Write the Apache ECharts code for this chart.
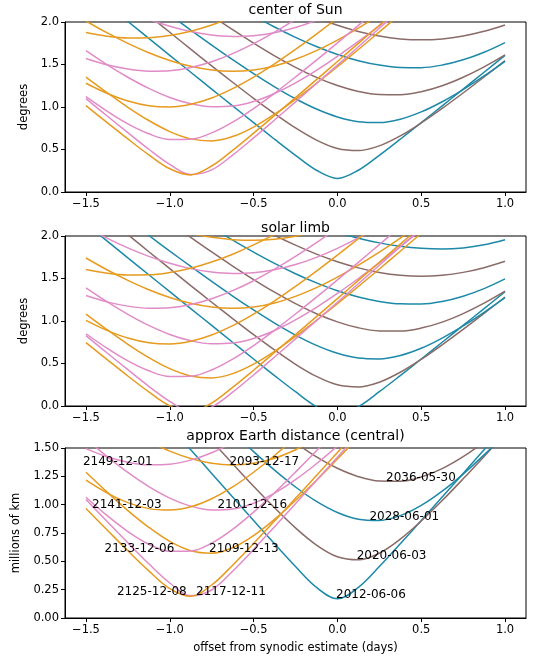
<!DOCTYPE html>
<html>
<head>
<meta charset="utf-8">
<script src="https://cdn.jsdelivr.net/npm/echarts@6/dist/echarts.min.js"></script>
<style>html,body{margin:0;padding:0;background:#fff}#c{width:540px;height:663px}</style>
</head>
<body>
<div id="c"></div>
<script>
// shared x grid (days offset from synodic estimate)
const xDays = [-1.5,-1.375,-1.25,-1.125,-1.0,-0.875,-0.75,-0.625,-0.5,-0.375,-0.25,-0.125,0,0.125,0.25,0.375,0.5,0.625,0.75,0.875,1.0];

// ---- center of Sun (degrees) ----
const sun_2012 = [2.405,2.206,2.006,1.807,1.608,1.409,1.211,1.013,0.816,0.621,0.431,0.256,0.16,0.256,0.431,0.621,0.816,1.013,1.211,1.409,1.608];
const sun_2020 = [2.684,2.481,2.280,2.078,1.879,1.680,1.484,1.291,1.102,0.922,0.754,0.611,0.512,0.487,0.543,0.660,0.812,0.983,1.165,1.353,1.545];
const sun_2028 = [null,null,2.454,2.269,2.086,1.905,1.729,1.557,1.393,1.238,1.097,0.976,0.883,0.827,0.817,0.857,0.942,1.062,1.205,1.365,1.537];
const sun_2036 = [null,null,null,null,2.423,2.247,2.075,1.909,1.751,1.602,1.467,1.349,1.253,1.183,1.146,1.144,1.180,1.250,1.350,1.473,1.614];
const sun_2044 = [null,null,null,null,null,null,2.364,2.215,2.074,1.941,1.819,1.711,1.618,1.545,1.493,1.465,1.463,1.493,1.555,1.644,1.758];
const sun_2052 = [null,null,null,null,null,null,null,null,2.401,2.272,2.155,2.050,1.961,1.888,1.834,1.801,1.790,1.801,1.835,1.890,1.965];
const sun_2085 = [2.374,2.246,2.131,2.031,1.950,1.887,1.847,1.830,1.839,1.874,1.935,2.020,2.125,2.248,2.385,null,null,null,null,null,null];
const sun_2093 = [2.012,1.874,1.749,1.639,1.548,1.479,1.435,1.420,1.435,1.483,1.561,1.663,1.787,1.928,2.082,2.247,2.420,null,null,null,null];
const sun_2101 = [1.662,1.499,1.350,1.219,1.112,1.038,1.002,1.011,1.065,1.159,1.284,1.431,1.595,1.771,1.955,2.146,2.342,2.541,null,null,null];
const sun_2109 = [1.352,1.170,0.997,0.841,0.711,0.625,0.601,0.652,0.764,0.915,1.090,1.278,1.475,1.677,1.883,2.092,2.302,2.514,null,null,null];
const sun_2117 = [1.099,0.897,0.698,0.503,0.325,0.206,0.260,0.434,0.636,0.847,1.060,1.276,1.492,1.709,1.927,2.144,2.362,null,null,null,null];
const sun_2125 = [1.016,0.819,0.624,0.437,0.273,0.201,0.306,0.490,0.692,0.900,1.110,1.322,1.535,1.749,1.962,2.176,2.390,null,null,null,null];
const sun_2133 = [1.121,0.952,0.802,0.685,0.618,0.621,0.695,0.822,0.982,1.162,1.353,1.551,1.754,1.961,2.170,2.381,null,null,null,null,null];
const sun_2141 = [1.279,1.161,1.070,1.015,1.001,1.032,1.106,1.216,1.352,1.508,1.678,1.858,2.046,2.239,2.437,null,null,null,null,null,null];
const sun_2149 = [1.571,1.496,1.446,1.422,1.427,1.465,1.533,1.628,1.745,1.881,2.031,2.193,2.364,null,null,null,null,null,null,null,null];
const sun_2157 = [1.876,1.833,1.812,1.814,1.842,1.892,1.965,2.057,2.166,2.290,2.426,null,null,null,null,null,null,null,null,null,null];

// ---- solar limb (degrees) ----
const limb_2012 = [2.142,1.943,1.743,1.544,1.345,1.146,0.948,0.750,0.553,0.358,0.168,-0.007,-0.103,-0.007,0.168,0.358,0.553,0.750,0.948,1.146,1.345];
const limb_2020 = [2.421,2.218,2.017,1.815,1.616,1.417,1.221,1.028,0.839,0.659,0.491,0.348,0.249,0.224,0.280,0.397,0.549,0.720,0.902,1.090,1.282];
const limb_2028 = [null,null,2.191,2.006,1.823,1.642,1.466,1.294,1.130,0.975,0.834,0.713,0.620,0.564,0.554,0.594,0.679,0.799,0.942,1.102,1.274];
const limb_2036 = [null,null,null,null,2.160,1.984,1.812,1.646,1.488,1.339,1.204,1.086,0.990,0.920,0.883,0.881,0.917,0.987,1.087,1.210,1.351];
const limb_2044 = [null,null,null,null,null,null,2.101,1.952,1.811,1.678,1.556,1.448,1.355,1.282,1.230,1.202,1.200,1.230,1.292,1.381,1.495];
const limb_2052 = [null,null,null,null,null,null,null,null,2.138,2.009,1.892,1.787,1.698,1.625,1.571,1.538,1.527,1.538,1.572,1.627,1.702];
const limb_2060 = [null,null,null,null,null,null,null,null,null,null,null,null,2.043,1.974,1.919,1.879,1.855,1.847,1.860,1.896,1.955];
const limb_2077 = [null,null,null,null,null,2.029,1.984,1.957,1.949,1.962,1.998,2.055,null,null,null,null,null,null,null,null,null];
const limb_2085 = [2.103,1.975,1.860,1.760,1.679,1.616,1.576,1.559,1.568,1.603,1.664,1.749,1.854,1.977,2.114,null,null,null,null,null,null];
const limb_2093 = [1.741,1.603,1.478,1.368,1.277,1.208,1.164,1.149,1.164,1.212,1.290,1.392,1.516,1.657,1.811,1.976,2.149,null,null,null,null];
const limb_2101 = [1.391,1.228,1.079,0.948,0.841,0.767,0.731,0.740,0.794,0.888,1.013,1.160,1.324,1.500,1.684,1.875,2.071,2.270,null,null,null];
const limb_2109 = [1.081,0.899,0.726,0.570,0.440,0.354,0.330,0.381,0.493,0.644,0.819,1.007,1.204,1.406,1.612,1.821,2.031,2.243,null,null,null];
const limb_2117 = [0.828,0.626,0.427,0.232,0.054,-0.065,-0.011,0.163,0.365,0.576,0.789,1.005,1.221,1.438,1.656,1.873,2.091,null,null,null,null];
const limb_2125 = [0.745,0.548,0.353,0.166,0.002,-0.070,0.035,0.219,0.421,0.629,0.839,1.051,1.264,1.478,1.691,1.905,2.119,null,null,null,null];
const limb_2133 = [0.850,0.681,0.531,0.414,0.347,0.350,0.424,0.551,0.711,0.891,1.082,1.280,1.483,1.690,1.899,2.110,null,null,null,null,null];
const limb_2141 = [1.008,0.890,0.799,0.744,0.730,0.761,0.835,0.945,1.081,1.237,1.407,1.587,1.775,1.968,2.166,null,null,null,null,null,null];
const limb_2149 = [1.300,1.225,1.175,1.151,1.156,1.194,1.262,1.357,1.474,1.610,1.760,1.922,2.093,null,null,null,null,null,null,null,null];
const limb_2157 = [1.605,1.562,1.541,1.543,1.571,1.621,1.694,1.786,1.895,2.019,2.155,null,null,null,null,null,null,null,null,null,null];

// ---- approx Earth distance (millions of km) ----
const dist_2012 = [2.535,2.325,2.114,1.905,1.695,1.485,1.276,1.068,0.860,0.655,0.454,0.270,0.169,0.270,0.454,0.655,0.860,1.068,1.276,1.485,1.695];
const dist_2020 = [2.829,2.615,2.403,2.190,1.980,1.771,1.564,1.361,1.162,0.972,0.795,0.644,0.540,0.513,0.572,0.696,0.856,1.036,1.228,1.426,1.628];
const dist_2028 = [null,null,2.587,2.392,2.199,2.008,1.822,1.641,1.468,1.305,1.156,1.029,0.931,0.872,0.861,0.903,0.993,1.119,1.270,1.439,1.620];
const dist_2036 = [null,null,null,null,2.554,2.368,2.187,2.012,1.846,1.689,1.546,1.422,1.321,1.247,1.208,1.206,1.244,1.318,1.423,1.553,1.701];
const dist_2093 = [1.913,1.782,1.663,1.559,1.472,1.407,1.365,1.350,1.365,1.410,1.485,1.582,1.699,1.834,1.980,2.137,2.301,null,null,null,null];
const dist_2101 = [1.581,1.426,1.284,1.159,1.058,0.987,0.953,0.962,1.013,1.102,1.221,1.361,1.517,1.684,1.859,2.041,2.227,2.417,null,null,null];
const dist_2109 = [1.286,1.113,0.948,0.800,0.676,0.594,0.572,0.620,0.727,0.870,1.037,1.215,1.403,1.595,1.791,1.990,2.189,2.391,null,null,null];
const dist_2117 = [1.045,0.853,0.664,0.478,0.309,0.196,0.247,0.413,0.605,0.806,1.008,1.214,1.419,1.625,1.833,2.039,2.246,null,null,null,null];
const dist_2125 = [0.966,0.779,0.593,0.416,0.260,0.191,0.291,0.466,0.658,0.856,1.056,1.257,1.460,1.663,1.866,2.069,2.273,null,null,null,null];
const dist_2133 = [1.066,0.905,0.763,0.651,0.588,0.591,0.661,0.782,0.934,1.105,1.287,1.475,1.668,1.865,2.064,2.264,null,null,null,null,null];
const dist_2141 = [1.216,1.104,1.018,0.965,0.952,0.981,1.052,1.156,1.286,1.434,1.596,1.767,1.946,2.129,2.318,null,null,null,null,null,null];
const dist_2149 = [1.494,1.423,1.375,1.352,1.357,1.393,1.458,1.548,1.660,1.789,1.932,2.086,2.248,null,null,null,null,null,null,null,null];

// ---- date labels in the distance panel ----
const labelText  = ['2149-12-01','2093-12-17','2141-12-03','2101-12-16','2133-12-06','2109-12-13','2125-12-08','2117-12-11','2036-05-30','2028-06-01','2020-06-03','2012-06-06'];
const labelX     = [-1.099,-0.641,-1.045,-0.713,-0.970,-0.763,-0.896,-0.840,0.293,0.194,0.118,-0.005];
const labelY     = [1.377,1.377,0.994,0.994,0.609,0.609,0.229,0.229,1.236,0.888,0.544,0.199];
const labelAlign = ['right','left','right','left','right','left','right','left','left','left','left','left'];

// tick labels
const xTicks = [-1.5,-1.0,-0.5,0,0.5,1.0];
const titles = ['center of Sun','solar limb','approx Earth distance (central)'];

const TEAL='#1d89a8', BROWN='#8a6b68', ORANGE='#e69b1f', PINK='#e18bc7';
const FONT='DejaVu Sans';

const panel0 = [[sun_2012,TEAL],[sun_2020,BROWN],[sun_2028,TEAL],[sun_2036,BROWN],[sun_2044,TEAL],[sun_2052,BROWN],
  [sun_2085,PINK],[sun_2093,ORANGE],[sun_2101,PINK],[sun_2109,ORANGE],[sun_2117,PINK],[sun_2125,ORANGE],[sun_2133,PINK],[sun_2141,ORANGE],[sun_2149,PINK],[sun_2157,ORANGE]];
const panel1 = [[limb_2012,TEAL],[limb_2020,BROWN],[limb_2028,TEAL],[limb_2036,BROWN],[limb_2044,TEAL],[limb_2052,BROWN],[limb_2060,TEAL],
  [limb_2077,ORANGE],[limb_2085,PINK],[limb_2093,ORANGE],[limb_2101,PINK],[limb_2109,ORANGE],[limb_2117,PINK],[limb_2125,ORANGE],[limb_2133,PINK],[limb_2141,ORANGE],[limb_2149,PINK],[limb_2157,ORANGE]];
const panel2 = [[dist_2012,TEAL],[dist_2020,BROWN],[dist_2028,TEAL],[dist_2036,BROWN],
  [dist_2093,ORANGE],[dist_2101,PINK],[dist_2109,ORANGE],[dist_2117,PINK],[dist_2125,ORANGE],[dist_2133,PINK],[dist_2141,ORANGE],[dist_2149,PINK]];

function fmtX(v){ return (v<0?'\u2212':'') + Math.abs(v).toFixed(1); }

const series = [];
[panel0,panel1,panel2].forEach((panel,gi)=>{
  panel.forEach(([arr,color])=>{
    series.push({
      type:'line', xAxisIndex:gi, yAxisIndex:gi, silent:true,
      data: xDays.map((x,i)=>[x, arr[i]]),
      symbol:'none', showSymbol:false, smooth:0.35, clip:true,
      lineStyle:{color, width:1.5}, itemStyle:{color}
    });
  });
});
series.push({
  type:'scatter', xAxisIndex:2, yAxisIndex:2, silent:true, z:10,
  symbolSize:1, itemStyle:{color:'rgba(0,0,0,0)'},
  data: labelText.map((t,i)=>({name:t, value:[labelX[i], labelY[i]], label:{align:labelAlign[i]}})),
  label:{show:true, position:[0,0], verticalAlign:'middle', formatter:p=>p.name,
         color:'#000', opacity:1, fontFamily:FONT, fontSize:12}
});

const gridTops=[22,236,448];
const grids = gridTops.map(t=>({left:65,right:14,top:t,height:170,show:true,borderColor:'#000',borderWidth:1,backgroundColor:'#fff'}));

const xAxes = gridTops.map((t,i)=>({
  type:'value', gridIndex:i, min:-1.625, max:1.125,
  axisLine:{show:true, onZero:false, lineStyle:{color:'#000', width:1}},
  axisTick:{show:true, customValues:xTicks, length:4, lineStyle:{color:'#000'}},
  axisLabel:{show:true, customValues:xTicks, formatter:fmtX, color:'#000', fontFamily:FONT, fontSize:11.5, margin:6},
  splitLine:{show:false},
  name: i===2 ? 'offset from synodic estimate (days)' : '',
  nameLocation:'middle', nameGap:24,
  nameTextStyle:{color:'#000', fontFamily:FONT, fontSize:11.5}
}));

const yAxes = gridTops.map((t,i)=>({
  type:'value', gridIndex:i, min:0, max: i===2?1.5:2.0, interval: i===2?0.25:0.5,
  position:'left',
  axisLine:{show:true, onZero:false, lineStyle:{color:'#000', width:1}},
  axisTick:{show:true, length:4, lineStyle:{color:'#000'}},
  axisLabel:{formatter: v=> v.toFixed(i===2?2:1), color:'#000', fontFamily:FONT, fontSize:11.5, margin:6},
  splitLine:{show:false},
  name: i===2 ? 'millions of km' : 'degrees',
  nameLocation:'middle', nameRotate:90, nameGap: i===2?38:31,
  nameTextStyle:{color:'#000', fontFamily:FONT, fontSize:11.5}
}));

const titleY=[10,228,436];
const graphic = titles.map((t,i)=>({
  type:'text', x:295.5, y:titleY[i], silent:true,
  style:{text:t, align:'center', verticalAlign:'middle', fill:'#000', font:'14px "DejaVu Sans"'}
}));

const chart = echarts.init(document.getElementById('c'), null, {renderer:'canvas'});
chart.setOption({
  animation:false, backgroundColor:'#fff',
  grid:grids, xAxis:xAxes, yAxis:yAxes, series, graphic
});
</script>
</body>
</html>
